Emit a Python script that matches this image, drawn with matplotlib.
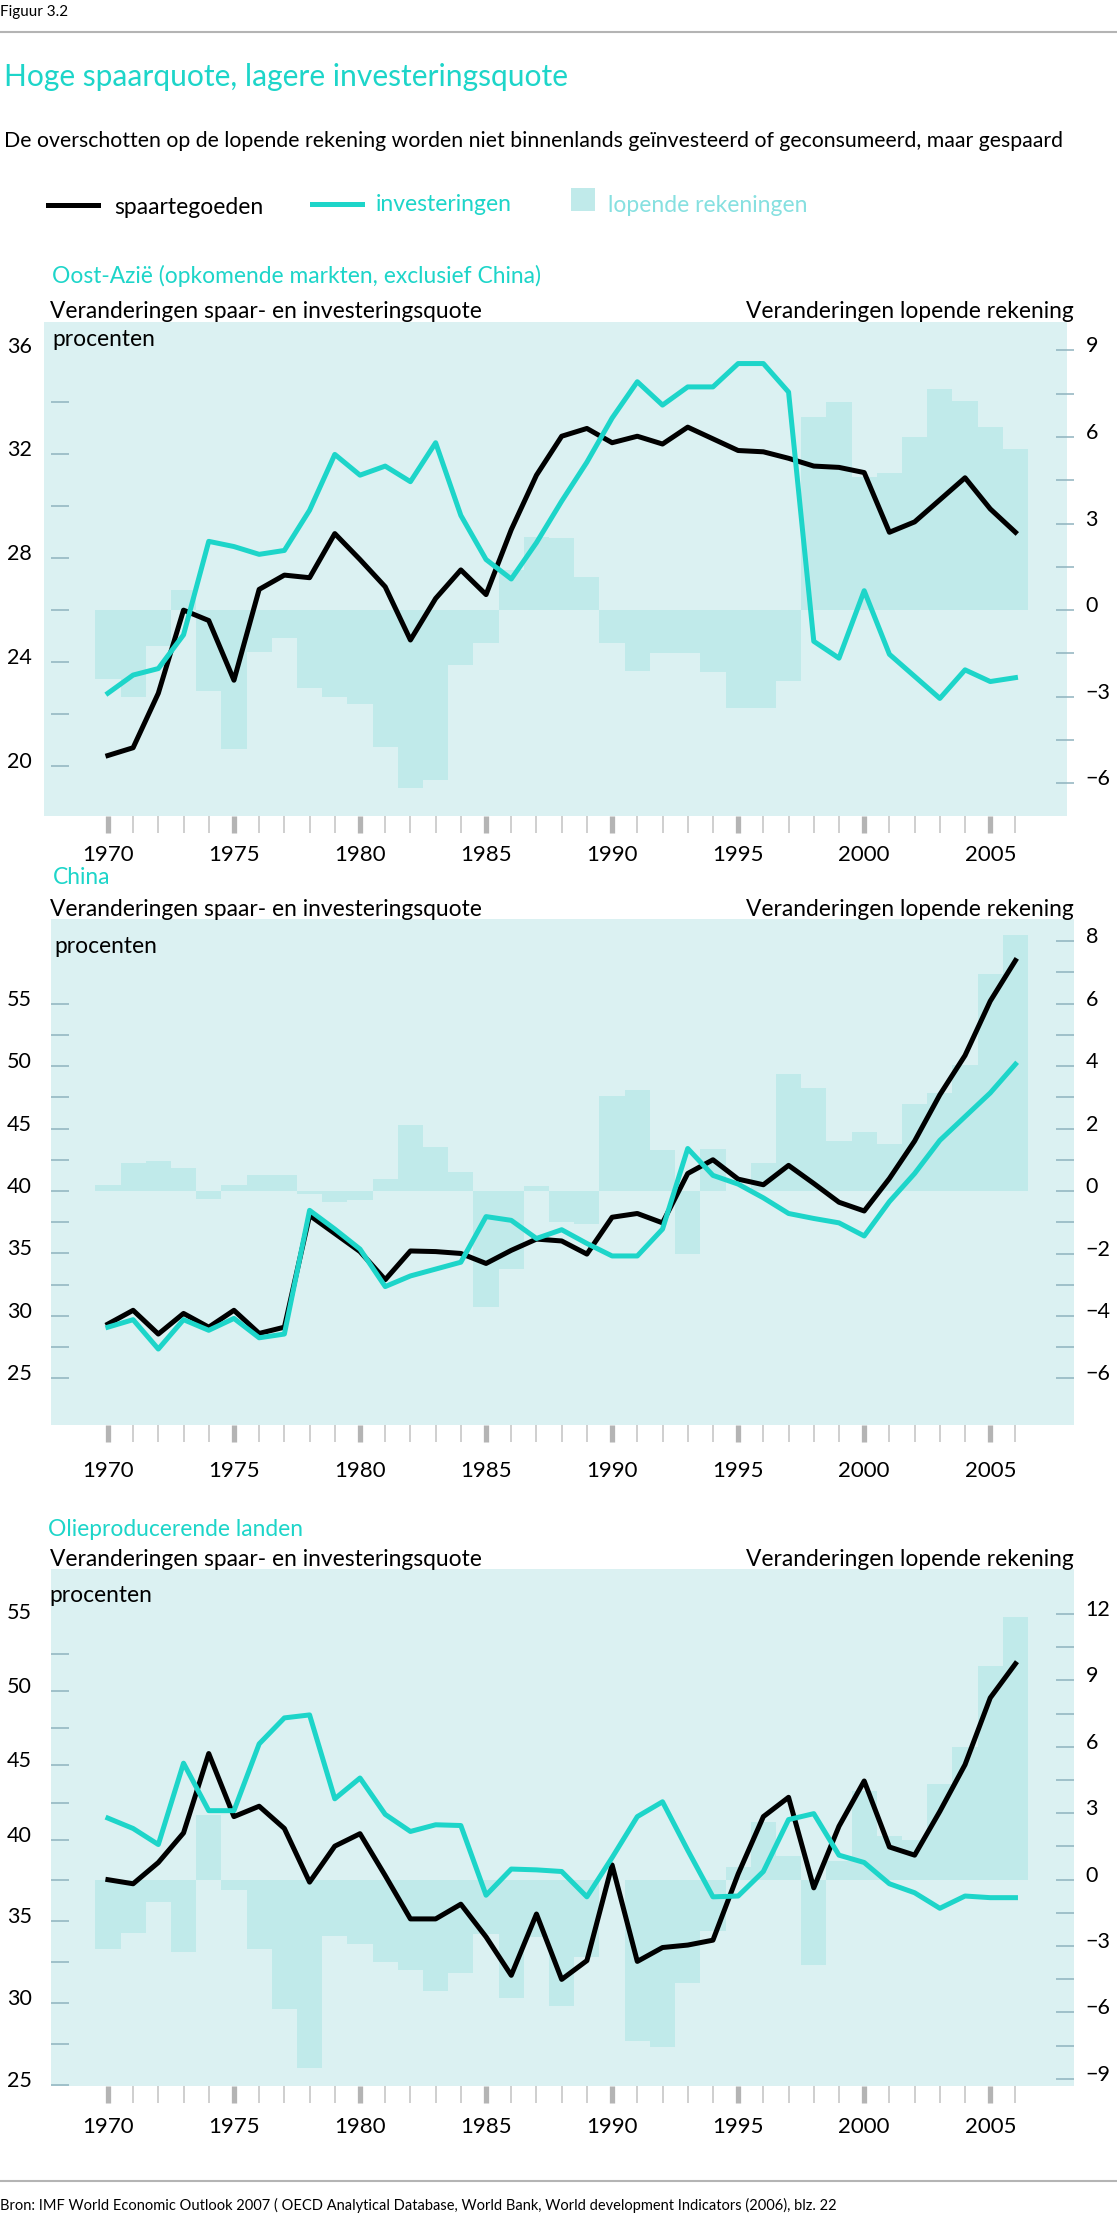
import numpy as np
import matplotlib
matplotlib.use('Agg')
import matplotlib.pyplot as plt
from matplotlib.lines import Line2D
from matplotlib.patches import Rectangle
from matplotlib.transforms import ScaledTranslation, blended_transform_factory

plt.rcParams['font.family'] = ['Lato', 'DejaVu Sans']

years = np.arange(1970, 2007)

# Oost-Azie (opkomende markten, exclusief China)
oa_sparen = [20.4, 20.7, 22.8, 26.0, 25.6, 23.3, 26.8, 27.35, 27.25, 28.95,
             27.95, 26.9, 24.85, 26.45, 27.55, 26.6, 29.1, 31.2, 32.7, 33.0,
             32.45, 32.7, 32.4, 33.05, 32.6, 32.15, 32.1, 31.85, 31.55, 31.5,
             31.3, 29.0, 29.4, 30.25, 31.1, 29.9, 29.0]
oa_invest = [22.8, 23.5, 23.75, 25.05, 28.65, 28.45, 28.15, 28.3, 29.85, 32.0,
             31.2, 31.55, 30.95, 32.45, 29.65, 27.95, 27.2, 28.6, 30.2, 31.7,
             33.4, 34.8, 33.9, 34.6, 34.6, 35.5, 35.5, 34.4, 24.8, 24.15,
             26.75, 24.3, 23.45, 22.6, 23.7, 23.25, 23.4]
oa_lopend = [-2.4, -3.0, -1.25, 0.7, -2.8, -4.8, -1.45, -0.95, -2.7, -3.0,
             -3.25, -4.75, -6.15, -5.9, -1.9, -1.15, 1.4, 2.55, 2.5, 1.15,
             -1.15, -2.1, -1.5, -1.5, -2.15, -3.4, -3.4, -2.45, 6.7, 7.2,
             4.6, 4.75, 6.0, 7.65, 7.25, 6.35, 5.6]

# China
cn_sparen = [29.35, 30.45, 28.55, 30.2, 29.1, 30.45, 28.6, 29.1, 38.05, 36.6,
             35.15, 32.9, 35.2, 35.15, 35.0, 34.2, 35.25, 36.15, 36.0, 34.95,
             37.9, 38.2, 37.45, 41.4, 42.5, 40.95, 40.5, 42.05, 40.6, 39.1,
             38.4, 41.0, 44.0, 47.7, 50.85, 55.2, 58.45]
cn_invest = [29.1, 29.7, 27.35, 29.7, 28.85, 29.8, 28.25, 28.55, 38.45, 36.95,
             35.35, 32.35, 33.2, 33.75, 34.3, 37.95, 37.65, 36.2, 36.9, 35.8,
             34.8, 34.8, 36.95, 43.4, 41.25, 40.55, 39.45, 38.2, 37.8, 37.45,
             36.4, 39.15, 41.4, 44.05, 45.95, 47.85, 50.15]
cn_lopend = [0.2, 0.9, 0.95, 0.75, -0.25, 0.2, 0.5, 0.5, -0.1, -0.35,
             -0.3, 0.4, 2.1, 1.4, 0.6, -3.7, -2.5, 0.15, -1.0, -1.05,
             3.05, 3.25, 1.3, -2.0, 1.35, 0.0, 0.9, 3.75, 3.3, 1.6,
             1.9, 1.5, 2.8, 3.15, 4.05, 6.95, 8.2]

# Olieproducerende landen
ol_sparen = [37.55, 37.3, 38.6, 40.45, 45.8, 41.55, 42.25, 40.75, 37.4, 39.6,
             40.4, 37.8, 35.15, 35.15, 36.05, 34.05, 31.7, 35.45, 31.45, 32.6,
             38.45, 32.55, 33.4, 33.55, 33.85, 37.9, 41.55, 42.85, 37.05, 40.9,
             43.95, 39.55, 39.05, 41.9, 45.05, 49.55, 51.85]
ol_invest = [41.45, 40.75, 39.7, 45.15, 41.95, 41.95, 46.45, 48.2, 48.4, 42.75,
             44.15, 41.7, 40.55, 41.0, 40.95, 36.6, 38.2, 38.15, 38.05, 36.5,
             38.9, 41.55, 42.55, 39.35, 36.5, 36.55, 38.05, 41.35, 41.75, 39.05,
             38.6, 37.3, 36.75, 35.8, 36.55, 36.45, 36.45]
ol_lopend = [-3.15, -2.4, -1.0, -3.25, 2.9, -0.45, -3.15, -5.85, -8.5, -2.55,
             -2.9, -3.7, -4.1, -5.05, -4.2, -2.45, -5.35, -2.6, -5.7, -3.5,
             0.0, -7.3, -7.55, -4.65, -2.3, 0.55, 2.6, 1.05, -3.85, 0.85,
             4.0, 1.95, 1.8, 4.3, 6.0, 9.65, 11.85]

W, H = 1117, 2214
BG = '#dbf1f2'
BAR = '#c0eaea'
CYAN = '#1dd5c9'
TICK = '#8fb3be'
GREY = '#b4b4b4'
X1970 = 107.9   # pixelpositie van 1970
PX_YEAR = 25.21

fig = plt.figure(figsize=(W / 100, H / 100), dpi=100)


def put(x, y, s, **kw):
    kw.setdefault('va', 'center')
    fig.text(x / W, 1 - y / H, s, **kw)


def rule(y):
    fig.add_artist(Line2D([0, 1], [1 - y / H] * 2, transform=fig.transFigure,
                          color=GREY, lw=1.5))


# kop
put(0, 12, 'Figuur 3.2', fontsize=11)
rule(32)
put(4, 77, 'Hoge spaarquote, lagere investeringsquote', fontsize=21.6, color=CYAN)
put(4, 141, 'De overschotten op de lopende rekening worden niet binnenlands '
    'geïnvesteerd of geconsumeerd, maar gespaard', fontsize=15.3)

# legenda
fig.add_artist(Line2D([48 / W, 98 / W], [1 - 205 / H] * 2, transform=fig.transFigure,
                      color='black', lw=3.6))
put(114, 207, 'spaartegoeden', fontsize=16.5)
fig.add_artist(Line2D([312 / W, 362 / W], [1 - 204 / H] * 2, transform=fig.transFigure,
                      color=CYAN, lw=3.6))
put(376, 204, 'investeringen', fontsize=16.5, color=CYAN)
fig.add_artist(Rectangle((571 / W, 1 - 211 / H), 24 / W, 23 / H,
                         transform=fig.transFigure, color=BAR, lw=0))
put(608, 205, 'lopende rekeningen', fontsize=16.5, color='#86e0e0')


def oil_fwd(v):
    # linkeras in de bron is boven 40 iets samengedrukt
    v = np.asarray(v, dtype=float)
    return np.where(v > 40, 40 + (v - 40) * 0.908, v)


def oil_inv(u):
    u = np.asarray(u, dtype=float)
    return np.where(u > 40, 40 + (u - 40) / 0.908, u)


def panel(box, title, title_xy, proc_xy, year_pad, sparen, invest, lopend,
          lim_l, lim_r, lticks, llabels, rticks, rlabels, scale=None):
    left, top, right, bottom = box
    ax_r = fig.add_axes([left / W, 1 - bottom / H, (right - left) / W, (bottom - top) / H])
    ax = ax_r.twinx()
    ax_r.set_facecolor(BG)
    for a in (ax, ax_r):
        for sp in a.spines.values():
            sp.set_visible(False)

    ax_r.bar(years, lopend, width=1.0, color=BAR, linewidth=0)
    if scale is not None:
        ax.set_yscale('function', functions=scale)
    ax.plot(years, sparen, color='black', lw=3.6)
    ax.plot(years, invest, color=CYAN, lw=3.6)

    ax_r.set_xlim(1970 - (X1970 - left) / PX_YEAR, 1970 + (right - X1970) / PX_YEAR)
    ax_r.set_ylim(*lim_r)
    ax.set_ylim(*lim_l)

    # jaartallen
    ax_r.set_xticks(np.arange(1970, 2006, 5))
    ax_r.set_xticks(years, minor=True)
    ax_r.tick_params(axis='x', which='major', length=12, width=3.8, color=GREY,
                     labelsize=16, pad=year_pad)
    ax_r.tick_params(axis='x', which='minor', length=12, width=1.1, color='#c2c2c2')

    # y-assen
    ax_r.yaxis.tick_right()
    ax.yaxis.tick_left()
    ax.set_yticks(llabels)
    ax.tick_params(axis='y', length=0, labelsize=15.5, pad=(left - 32) * 0.72)
    ax_r.set_yticks(rlabels)
    ax_r.tick_params(axis='y', length=0, labelsize=15.5, pad=(1085.6 - right) * 0.72)
    lift = ScaledTranslation(0, 6 / 100, fig.dpi_scale_trans)
    for lab in ax.get_yticklabels() + ax_r.get_yticklabels():
        lab.set_transform(lab.get_transform() + lift)

    tl = blended_transform_factory(fig.transFigure, ax.transData)
    ax.hlines(lticks, 51 / W, 68.6 / W, transform=tl, colors=TICK, lw=1.1, clip_on=False)
    tr = blended_transform_factory(fig.transFigure, ax_r.transData)
    ax_r.hlines(rticks, 1056 / W, 1074 / W, transform=tr, colors=TICK, lw=1.1, clip_on=False)

    put(title_xy[0], title_xy[1], title, fontsize=16.4, color=CYAN)
    put(50, top - 10, 'Veranderingen spaar- en investeringsquote', fontsize=16.4)
    put(proc_xy[0], proc_xy[1], 'procenten', fontsize=16.4)
    put(1074, top - 10, 'Veranderingen lopende rekening', fontsize=16.4, ha='right')
    return ax, ax_r


panel((43.6, 321.5, 1067, 816), 'Oost-Azië (opkomende markten, exclusief China)',
      (52, 276), (52, 340), 9,
      oa_sparen, oa_invest, oa_lopend, (18.07, 37.12), (-7.13, 10.0),
      np.arange(20, 35, 2), np.arange(20, 37, 4),
      np.arange(-6, 9.1, 1.5), np.arange(-6, 10, 3))

panel((51, 919, 1074, 1425), 'China', (53, 878), (54, 946), 14,
      cn_sparen, cn_invest, cn_lopend, (21.27, 61.77), (-7.49, 8.71),
      np.arange(25, 55.1, 2.5), np.arange(25, 56, 5),
      np.arange(-6, 9), np.arange(-6, 9, 2))

panel((51, 1569, 1074, 2086), 'Olieproducerende landen', (48, 1529), (49, 1595), 10,
      ol_sparen, ol_invest, ol_lopend, (24.93, 58.23), (-9.32, 14.03),
      np.arange(25, 53, 2.5), np.arange(25, 56, 5),
      np.arange(-9, 12.1, 1.5), np.arange(-9, 13, 3), scale=(oil_fwd, oil_inv))

rule(2181)
put(0, 2205, 'Bron: IMF World Economic Outlook 2007 ( OECD Analytical Database, World Bank, '
    'World development Indicators (2006), blz. 22', fontsize=10.5)

fig.savefig('out.png', dpi=100)
